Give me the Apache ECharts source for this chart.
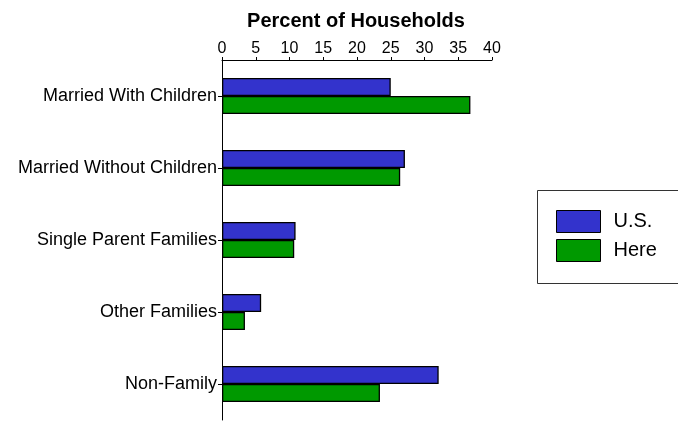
<!DOCTYPE html>
<html><head><meta charset="utf-8">
<script src="https://cdn.jsdelivr.net/npm/echarts@6/dist/echarts.min.js"></script>
<style>html,body{margin:0;padding:0;background:#fff}#c{width:678px;height:422px}</style>
</head><body><div id="c"></div>
<script>
const categories = ["Married With Children","Married Without Children","Single Parent Families","Other Families","Non-Family"];
const usValues = [25.0, 27.1, 10.9, 5.8, 32.1];
const hereValues = [36.8, 26.4, 10.7, 3.4, 23.4];
const seriesNames = ["U.S.", "Here"];
const xTicks = {min: 0, max: 40, interval: 5};

const chart = echarts.init(document.getElementById('c'));
const font = 'Liberation Sans, Arial, sans-serif';
chart.setOption({
  animation: false,
  title: {text: 'Percent of Households', left: 351, textAlign: 'center', top: 6,
    textStyle: {fontFamily: font, fontSize: 20, fontWeight: 'bold', color: '#000'}},
  grid: {left: 222, right: 186, top: 60, bottom: 2, containLabel: false},
  graphic: [{type: 'rect', left: 535, top: 188, shape: {width: 141, height: 93},
    style: {fill: 'none', stroke: '#333', lineWidth: 1}, silent: true}],
  legend: {orient: 'vertical', left: 556, top: 210, padding: 0,
    itemWidth: 44, itemHeight: 22, itemGap: 6,
    icon: 'rect',
    textStyle: {fontFamily: font, fontSize: 20, color: '#000', padding: [0,0,0,8]},
    itemStyle: {borderColor: '#000', borderWidth: 1},
    data: seriesNames},
  xAxis: {type: 'value', position: 'top', min: xTicks.min, max: xTicks.max, interval: xTicks.interval,
    axisLine: {show: true, lineStyle: {color: '#000', width: 1}},
    axisTick: {show: true, length: 3, lineStyle: {color: '#000'}},
    axisLabel: {fontFamily: font, fontSize: 16, color: '#000', margin: 3},
    splitLine: {show: false}},
  yAxis: {type: 'category', data: categories, inverse: true,
    axisLine: {show: true, lineStyle: {color: '#000', width: 1}},
    axisTick: {show: true, alignWithLabel: true, length: 4, lineStyle: {color: '#000'}},
    axisLabel: {fontFamily: font, fontSize: 18, color: '#000', margin: 5}},
  series: [
    {name: seriesNames[0], type: 'bar', data: usValues, barWidth: 18, barGap: '0%',
      itemStyle: {color: '#3333CC', borderColor: '#000', borderWidth: 1.3}},
    {name: seriesNames[1], type: 'bar', data: hereValues, barWidth: 18, barGap: '0%',
      itemStyle: {color: '#009900', borderColor: '#000', borderWidth: 1.3}}
  ]
});
</script></body></html>
